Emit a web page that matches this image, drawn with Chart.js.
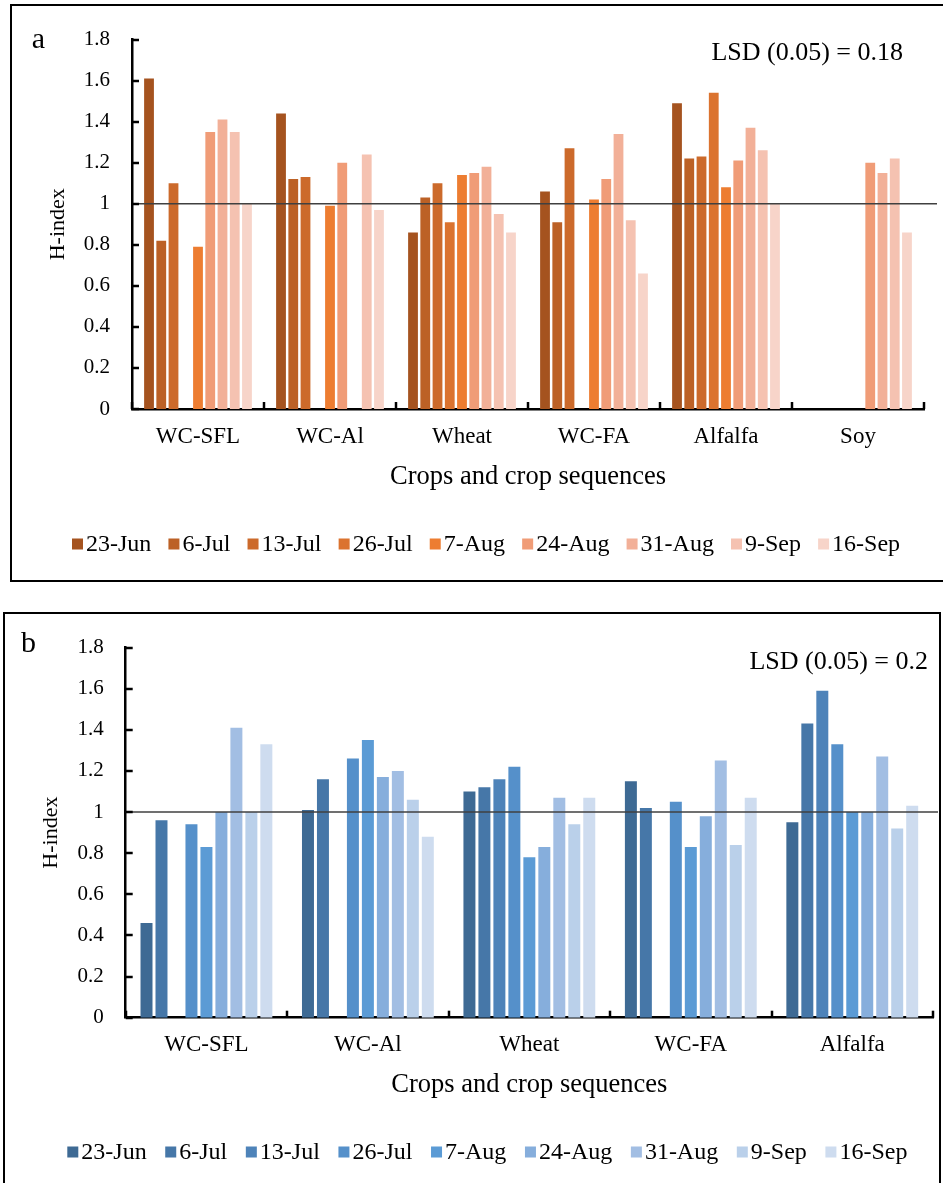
<!DOCTYPE html>
<html>
<head>
<meta charset="utf-8">
<script src="https://cdn.jsdelivr.net/npm/chart.js@4.4.0/dist/chart.umd.min.js"></script>
<style>
  html, body { margin: 0; padding: 0; background: #fff; }
  body { width: 943px; height: 1183px; position: relative; overflow: hidden; }
  .box { position: absolute; border: 2px solid #000; box-sizing: border-box; }
  canvas { position: absolute; }
</style>
</head>
<body>
<div class="box" style="left:10px; top:4px; width:945px; height:578px;"></div>
<div class="box" style="left:3px; top:612px; width:938px; height:600px;"></div>
<canvas id="chartA" width="925" height="572" style="left:12px; top:7px;"></canvas>
<canvas id="chartB" width="933" height="568" style="left:5px; top:615px;"></canvas>
<script>
// data
const dates = ['23-Jun', '6-Jul', '13-Jul', '26-Jul', '7-Aug', '24-Aug', '31-Aug', '9-Sep', '16-Sep'];
const yTickLabels = ['0', '0.2', '0.4', '0.6', '0.8', '1', '1.2', '1.4', '1.6', '1.8'];
const refLine = 1;

// panel a
const cropsA = ['WC-SFL', 'WC-Al', 'Wheat', 'WC-FA', 'Alfalfa', 'Soy'];
const a23Jun = [1.61, 1.44, 0.86, 1.06, 1.49, null];
const a6Jul = [0.82, 1.12, 1.03, 0.91, 1.22, null];
const a13Jul = [1.10, 1.13, 1.10, 1.27, 1.23, null];
const a26Jul = [null, null, 0.91, null, 1.54, null];
const a7Aug = [0.79, 0.99, 1.14, 1.02, 1.08, null];
const a24Aug = [1.35, 1.20, 1.15, 1.12, 1.21, 1.20];
const a31Aug = [1.41, null, 1.18, 1.34, 1.37, 1.15];
const a9Sep = [1.35, 1.24, 0.95, 0.92, 1.26, 1.22];
const a16Sep = [1.00, 0.97, 0.86, 0.66, 1.00, 0.86];
const lsdA = 'LSD (0.05) = 0.18';

// panel b
const cropsB = ['WC-SFL', 'WC-Al', 'Wheat', 'WC-FA', 'Alfalfa'];
const b23Jun = [0.46, 1.01, 1.10, 1.15, 0.95];
const b6Jul = [0.96, 1.16, 1.12, 1.02, 1.43];
const b13Jul = [null, null, 1.16, null, 1.59];
const b26Jul = [0.94, 1.26, 1.22, 1.05, 1.33];
const b7Aug = [0.83, 1.35, 0.78, 0.83, 1.00];
const b24Aug = [1.00, 1.17, 0.83, 0.98, 1.00];
const b31Aug = [1.41, 1.20, 1.07, 1.25, 1.27];
const b9Sep = [1.00, 1.06, 0.94, 0.84, 0.92];
const b16Sep = [1.33, 0.88, 1.07, 1.07, 1.03];
const lsdB = 'LSD (0.05) = 0.2';

const orange = ['#A5531F', '#BC6126', '#CC6A2B', '#DB732F', '#ED7D31', '#F09C77', '#F2B098', '#F5C2B1', '#F7D4C9'];
const blue = ['#3E6A94', '#4677A8', '#4E83B9', '#5590CA', '#5B9BD5', '#86AEDC', '#A2BEE3', '#BAD0EA', '#CEDCEF'];

const serif = '"Liberation Serif", "Times New Roman", serif';

// inner tick marks, the line at 1, panel letter, LSD note and the legend row
const deco = {
  id: 'deco',
  afterDatasetsDraw(chart, args, opts) {
    const ctx = chart.ctx;
    const area = chart.chartArea;
    const x = chart.scales.x;
    const y = chart.scales.y;
    ctx.save();
    // reference line
    const ly = y.getPixelForValue(refLine);
    ctx.strokeStyle = '#404040';
    ctx.lineWidth = 1.5;
    ctx.beginPath();
    ctx.moveTo(area.left, ly);
    ctx.lineTo(chart.width, ly);
    ctx.stroke();
    // tick marks pointing inward
    ctx.strokeStyle = '#000';
    ctx.lineWidth = 2.5;
    y.ticks.forEach(function (t) {
      const py = Math.round(y.getPixelForValue(t.value));
      ctx.beginPath();
      ctx.moveTo(area.left, py);
      ctx.lineTo(area.left + 7, py);
      ctx.stroke();
    });
    const half = (x.getPixelForValue(1) - x.getPixelForValue(0)) / 2;
    for (let i = 0; i <= chart.data.labels.length; i++) {
      const px = Math.round(x.getPixelForValue(i) - half);
      ctx.beginPath();
      ctx.moveTo(px, area.bottom);
      ctx.lineTo(px, area.bottom - 7);
      ctx.stroke();
    }
    ctx.restore();
  },
  afterDraw(chart, args, opts) {
    const ctx = chart.ctx;
    ctx.save();
    ctx.fillStyle = '#000';
    ctx.textBaseline = 'alphabetic';
    ctx.textAlign = 'center';
    ctx.font = '30px ' + serif;
    ctx.fillText(opts.panel, opts.panelX, opts.panelY);
    ctx.textAlign = 'right';
    ctx.textBaseline = 'middle';
    ctx.font = '26px ' + serif;
    ctx.fillText(opts.lsd, opts.lsdRight, opts.lsdY);
    // legend
    ctx.textAlign = 'left';
    ctx.font = '24px ' + serif;
    let lx = opts.legendX;
    const ly = opts.legendY;
    chart.data.datasets.forEach(function (ds) {
      ctx.fillStyle = ds.backgroundColor;
      ctx.fillRect(lx, ly - 5.5, 11, 11);
      lx += 14;
      ctx.fillStyle = '#000';
      ctx.fillText(ds.label, lx, ly + 1);
      lx += ctx.measureText(ds.label).width + opts.legendGap;
    });
    ctx.restore();
  },
};

function makeSets(series, colors) {
  return series.map(function (data, i) {
    return {
      label: dates[i],
      data: data,
      backgroundColor: colors[i],
      borderWidth: 0,
      categoryPercentage: 0.835,
      barPercentage: 0.8,
    };
  });
}

function makeConfig(labels, sets, yWidth, pad, deco) {
  return {
    type: 'bar',
    data: { labels: labels, datasets: sets },
    plugins: [deco],
    options: {
      responsive: false,
      animation: false,
      devicePixelRatio: 1,
      layout: { padding: pad },
      plugins: {
        legend: { display: false },
        tooltip: { enabled: false },
        deco: deco.opts,
      },
      scales: {
        x: {
          grid: { display: false, drawTicks: false },
          border: { color: '#000', width: 2.5 },
          ticks: { color: '#000', padding: 16, font: { family: serif, size: 23, lineHeight: 1 } },
          title: {
            display: true,
            text: 'Crops and crop sequences',
            color: '#000',
            font: { family: serif, size: 26.5, lineHeight: 1 },
            padding: { top: 0, bottom: 9 },
          },
          afterFit: function (scale) { scale.height = 90; },
        },
        y: {
          min: 0,
          max: 1.8,
          grid: { display: false, drawTicks: false },
          border: { color: '#000', width: 2.5 },
          ticks: {
            stepSize: 0.2,
            color: '#000',
            padding: 22,
            font: { family: serif, size: 21, lineHeight: 1 },
            callback: function (value, index) {
              return yTickLabels[index] !== undefined ? yTickLabels[index] : String(Math.round(value * 10) / 10);
            },
          },
          title: {
            display: true,
            text: 'H-index',
            color: '#000',
            font: { family: serif, size: 22, lineHeight: 1 },
            padding: { top: 35, bottom: 0 },
          },
          afterFit: function (scale) { scale.width = yWidth; },
        },
      },
    },
  };
}

const setsA = makeSets([a23Jun, a6Jul, a13Jul, a26Jul, a7Aug, a24Aug, a31Aug, a9Sep, a16Sep], orange);
const setsB = makeSets([b23Jun, b6Jul, b13Jul, b26Jul, b7Aug, b24Aug, b31Aug, b9Sep, b16Sep], blue);

const decoA = Object.assign({}, deco, { opts: { panel: 'a', panelX: 26.5, panelY: 41, lsd: lsdA, lsdRight: 891, lsdY: 46, legendX: 60, legendY: 537, legendGap: 17.1 } });
const decoB = Object.assign({}, deco, { opts: { panel: 'b', panelX: 23.5, panelY: 37, lsd: lsdB, lsdRight: 923, lsdY: 47, legendX: 62.3, legendY: 537, legendGap: 18.6 } });

var chartA = new Chart(document.getElementById('chartA'),
  makeConfig(cropsA, setsA, 120, { left: 0, top: 27.6, right: 13, bottom: 80 }, decoA));
var chartB = new Chart(document.getElementById('chartB'),
  makeConfig(cropsB, setsB, 120.7, { left: 0, top: 27, right: 5, bottom: 75.3 }, decoB));
</script>
</body>
</html>
